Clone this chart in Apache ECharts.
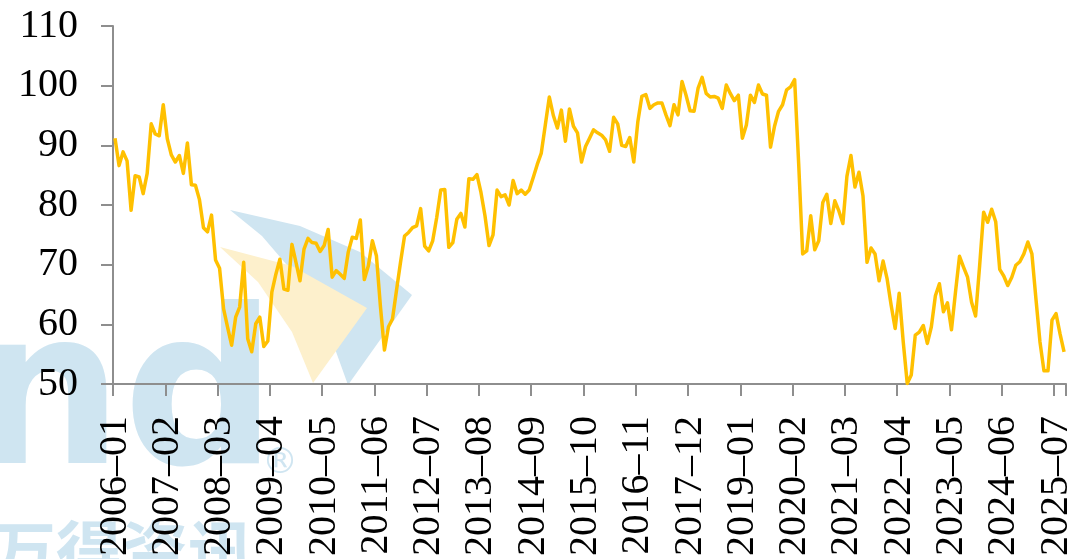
<!DOCTYPE html>
<html>
<head>
<meta charset="utf-8">
<script src="https://cdn.jsdelivr.net/npm/echarts@6/dist/echarts.min.js"></script>
<style>
  html, body { margin: 0; padding: 0; background: #fff; }
  #chart { width: 1076px; height: 559px; }
</style>
</head>
<body>
<div id="chart"></div>
<script>
// monthly index, 2006-01 .. 2025-09
const startYear = 2006;
const monthCount = 237;

const values = [
  91.2, 86.6, 88.9, 87.4, 79.1, 84.9, 84.7, 81.9, 85.3, 93.6, 91.9, 91.6,
  96.8, 91.1, 88.4, 87.2, 88.3, 85.3, 90.4, 83.4, 83.3, 80.9, 76.2, 75.5,
  78.3, 70.8, 69.4, 62.6, 59.5, 56.5, 61.2, 62.9, 70.4, 57.6, 55.4, 60.1,
  61.2, 56.3, 57.2, 65.4, 68.4, 70.9, 65.9, 65.7, 73.4, 70.4, 67.3, 72.6,
  74.4, 73.7, 73.6, 72.2, 73.2, 75.9, 67.9, 69.0, 68.4, 67.7, 72.1, 74.6,
  74.4, 77.5, 67.5, 69.8, 74.0, 71.5, 63.0, 55.7, 59.6, 60.9, 65.7, 70.4,
  74.8, 75.4, 76.2, 76.5, 79.4, 73.1, 72.3, 74.0, 77.9, 82.5, 82.6, 72.9,
  73.7, 77.6, 78.6, 76.3, 84.4, 84.3, 85.1, 82.1, 78.2, 73.2, 75.0, 82.5,
  81.4, 81.7, 80.0, 84.1, 81.9, 82.5, 81.8, 82.5, 84.6, 86.8, 88.7, 93.4,
  98.1, 95.0, 92.9, 95.9, 90.7, 96.1, 93.2, 92.1, 87.2, 89.8, 91.2, 92.6,
  92.1, 91.7, 90.9, 89.0, 94.7, 93.6, 90.0, 89.8, 91.3, 87.2, 93.9, 98.2,
  98.5, 96.2, 96.8, 97.1, 97.1, 95.1, 93.3, 96.8, 95.1, 100.7, 98.4, 95.8,
  95.7, 99.6, 101.4, 98.7, 98.1, 98.2, 97.9, 96.2, 100.1, 98.7, 97.5, 98.4,
  91.2, 93.4, 98.4, 97.2, 100.1, 98.6, 98.4, 89.7, 93.2, 95.7, 96.8, 99.3,
  99.8, 101.0, 87.0, 71.8, 72.3, 78.2, 72.5, 74.0, 80.4, 81.8, 76.9, 80.7,
  79.0, 76.9, 84.8, 88.3, 83.0, 85.5, 81.5, 70.4, 72.8, 71.8, 67.3, 70.6,
  67.6, 63.2, 59.3, 65.2, 57.1, 50.1, 51.5, 58.2, 58.7, 59.8, 56.8, 59.6,
  64.8, 66.8, 62.1, 63.6, 59.1, 65.4, 71.4, 69.6, 67.9, 63.7, 61.4, 69.8,
  78.8, 77.1, 79.3, 77.2, 69.2, 68.1, 66.5, 67.9, 69.9, 70.5, 71.8, 73.8,
  71.8, 64.3, 57.1, 52.2, 52.2, 60.7, 61.8, 58.4, 55.4
];

const yTicks = [50, 60, 70, 80, 90, 100, 110];

const categories = [];
for (let i = 0; i < monthCount; i++) {
  const y = startYear + Math.floor(i / 12);
  const m = (i % 12) + 1;
  categories.push(y + "-" + (m < 10 ? "0" + m : m));
}

const axisGray = "#8e8e8e";
const wmBlue = "#cfe5f1";
const wmYellow = "#fdf0cc";

const chart = echarts.init(document.getElementById("chart"));
chart.setOption({
  backgroundColor: "#fff",
  animation: false,
  grid: { left: 113, right: -3, top: 26, bottom: 173 },
  graphic: [
    // faint logo watermark behind the plot
    {
      type: "polygon", z: -10, silent: true,
      shape: { points: [[230, 210], [300, 226], [360, 252], [412, 295], [348, 385], [330, 335], [298, 278], [262, 236]] },
      style: { fill: wmBlue }
    },
    {
      type: "polygon", z: -9, silent: true,
      shape: { points: [[220, 247], [292, 266], [367, 308], [313, 383], [292, 332], [258, 282]] },
      style: { fill: wmYellow }
    },
    {
      type: "text", z: -10, silent: true, left: -30, top: 300,
      style: { text: "nd", font: "bold 215px 'DejaVu Sans'", fill: wmBlue }
    },
    {
      type: "text", z: -10, silent: true, left: 262, top: 446,
      style: { text: "®", font: "36px 'DejaVu Sans'", fill: wmBlue }
    },
    {
      type: "text", z: -10, silent: true, left: -10, top: 518,
      style: { text: "万得资讯", font: "bold 66px 'Noto Sans CJK SC'", fill: wmBlue }
    }
  ],
  xAxis: {
    type: "category",
    data: categories,
    boundaryGap: true,
    axisLine: { lineStyle: { color: axisGray, width: 2 } },
    axisTick: { show: true, interval: 12, length: 12, lineStyle: { color: axisGray, width: 2 } },
    axisLabel: {
      interval: 12,
      rotate: 90,
      margin: 32,
      color: "#000",
      fontFamily: "'Liberation Serif', serif",
      fontSize: 40,
      formatter: (v) => v.replace("-", "\u2013")
    },
    splitLine: { show: false }
  },
  yAxis: {
    type: "value",
    min: yTicks[0],
    max: yTicks[yTicks.length - 1],
    interval: 10,
    axisLine: { show: true, lineStyle: { color: axisGray, width: 2 } },
    axisTick: { show: true, length: 12, lineStyle: { color: axisGray, width: 2 } },
    axisLabel: {
      margin: 35,
      color: "#000",
      fontFamily: "'Liberation Serif', serif",
      fontSize: 40
    },
    splitLine: { show: false }
  },
  series: [
    {
      type: "line",
      data: values,
      symbol: "none",
      lineStyle: { color: "#FFC000", width: 3.5, join: "round" },
      z: 5
    }
  ]
});
</script>
</body>
</html>
